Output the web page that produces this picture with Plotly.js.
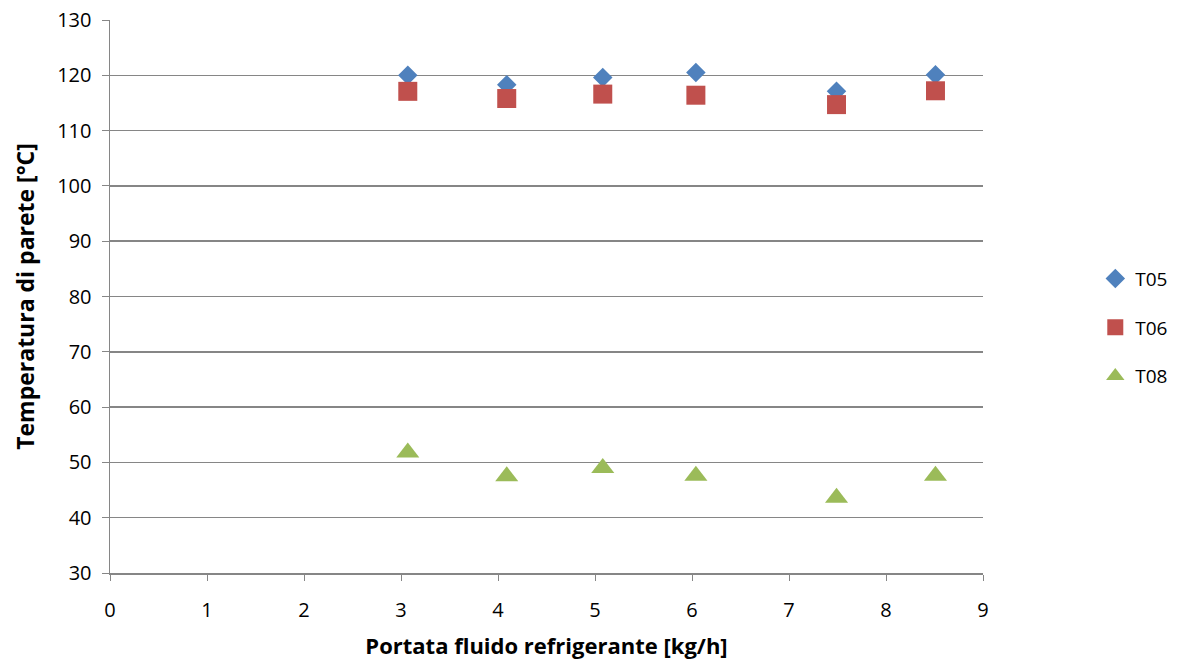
<!DOCTYPE html>
<html>
<head>
<meta charset="utf-8">
<script src="https://cdn.plot.ly/plotly-3.0.1.min.js"></script>
<style>html,body{margin:0;padding:0;background:#fff;}#chart{width:1179px;height:666px;}</style>
</head>
<body>
<div id="chart"></div>
<script>
const portata = [3.07, 4.09, 5.08, 6.04, 7.49, 8.51];
const T05 = [120.0, 118.3, 119.6, 120.5, 117.1, 120.1];
const T06 = [117.1, 115.8, 116.6, 116.4, 114.7, 117.2];
const T08 = [51.8, 47.5, 49.0, 47.6, 43.6, 47.6];
const seriesNames = ["T05", "T06", "T08"];
const xTitle = "Portata fluido refrigerante [kg/h]";
const yTitle = "Temperatura di parete [°C]";

const font = "'Open Sans', 'Noto Sans', sans-serif";
const traces = [
  {x: portata, y: T05, name: seriesNames[0], type: "scatter", mode: "markers", legendgroup: "a",
   marker: {symbol: "diamond", size: 15, color: "#4F81BD"}},
  {x: portata, y: T06, name: seriesNames[1], type: "scatter", mode: "markers", legendgroup: "b",
   marker: {symbol: "square", size: 19, color: "#C0504D"}},
  {x: portata, y: T08, name: seriesNames[2], type: "scatter", mode: "markers", legendgroup: "c",
   marker: {symbol: "triangle-up", size: 20, color: "#9BBB59"}}
];
const layout = {
  width: 1179, height: 666,
  margin: {l: 110, r: 196, t: 20, b: 93, autoexpand: false},
  paper_bgcolor: "#fff", plot_bgcolor: "#fff",
  font: {family: font, size: 20, color: "#000"},
  showlegend: true,
  legend: {xref: "container", yref: "container", x: 0.929, y: 0.508, xanchor: "left", yanchor: "middle",
           tracegroupgap: 21, font: {family: font, size: 19, color: "#000"}, itemwidth: 30},
  xaxis: {range: [0, 9], dtick: 1, tick0: 0, showgrid: false, zeroline: false,
          showline: true, linecolor: "#868686", linewidth: 1.5,
          ticks: "outside", ticklen: 6, tickcolor: "#868686", tickwidth: 1,
          ticklabelstandoff: 12,
          tickfont: {family: font, size: 20},
          title: {text: "<b>" + xTitle + "</b>", font: {family: font, size: 22}, standoff: 17}},
  yaxis: {range: [30, 130], dtick: 10, tick0: 30, showgrid: true, gridcolor: "#868686", gridwidth: 1.5,
          zeroline: false, showline: true, linecolor: "#868686", linewidth: 1.5,
          ticks: "outside", ticklen: 7, tickcolor: "#868686", tickwidth: 1,
          ticklabelstandoff: 6,
          tickfont: {family: font, size: 20},
          title: {text: "<b>" + yTitle + "</b>", font: {family: font, size: 23}, standoff: 16}}
};
Plotly.newPlot("chart", traces, layout, {displayModeBar: false, staticPlot: true});
</script>
</body>
</html>
